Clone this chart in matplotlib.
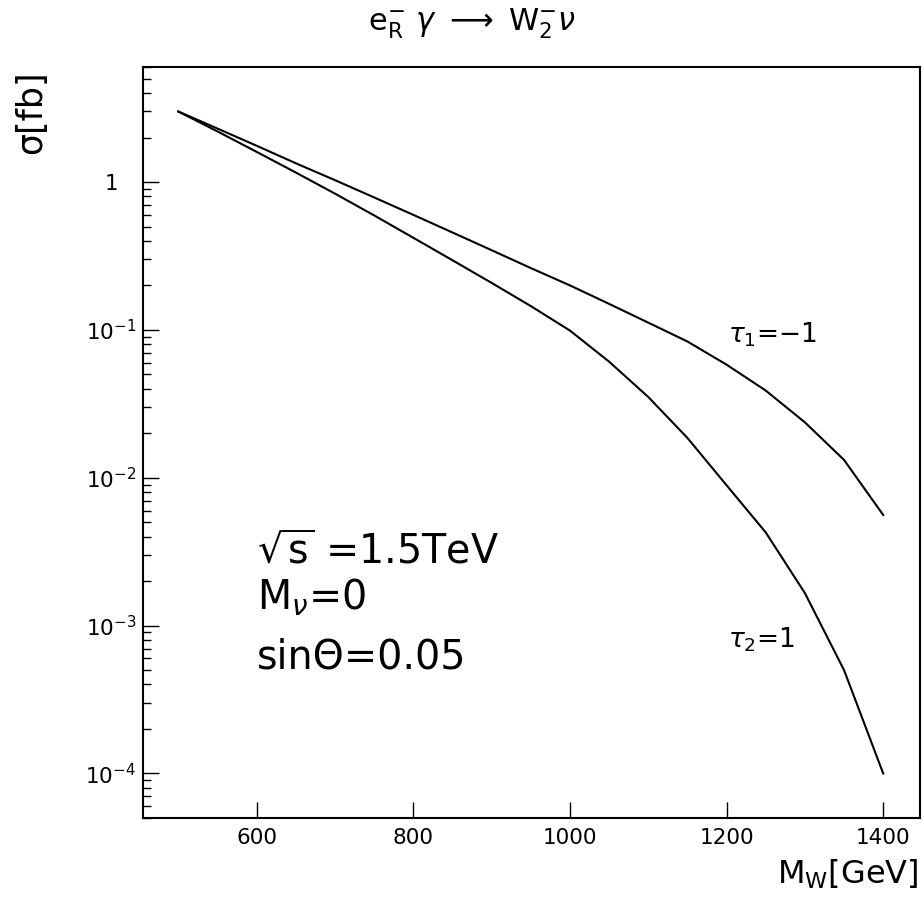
import matplotlib
matplotlib.use("Agg")
import matplotlib.pyplot as plt
from matplotlib.ticker import FixedLocator, FixedFormatter, LogLocator, NullFormatter
from matplotlib.transforms import ScaledTranslation

plt.rcParams['font.family'] = ['DejaVu Sans']
plt.rcParams['mathtext.fontset'] = 'dejavusans'
plt.rcParams['mathtext.default'] = 'rm'

# Data
m_w = [500, 550, 600, 650, 700, 750, 800, 850, 900, 950, 1000, 1050, 1100,
       1150, 1200, 1250, 1300, 1350, 1400]
sigma_tau1_m1 = [3.00, 2.30, 1.76, 1.34, 1.03, 0.787, 0.600, 0.456, 0.346,
                 0.262, 0.200, 0.150, 0.112, 0.0835, 0.0582, 0.0389, 0.0237,
                 0.0132, 0.0056]
sigma_tau2_p1 = [3.00, 2.20, 1.60, 1.16, 0.835, 0.595, 0.420, 0.296, 0.208,
                 0.145, 0.099, 0.0610, 0.0352, 0.0186, 0.0089, 0.00427,
                 0.00166, 0.00050, 0.00010]

x_ticks = [600, 800, 1000, 1200, 1400]
x_ticklabels = ['600', '800', '1000', '1200', '1400']
y_ticks = [1e-4, 1e-3, 1e-2, 1e-1, 1]
y_ticklabels = [r'$10^{-4}$', r'$10^{-3}$', r'$10^{-2}$', r'$10^{-1}$', '1']

fig = plt.figure(figsize=(9.24, 8.99), dpi=100)
ax = fig.add_axes([0.1548, 0.0901, 0.9957 - 0.1548, 0.9255 - 0.0901])

ax.plot(m_w, sigma_tau1_m1, color='black', lw=1.5)
ax.plot(m_w, sigma_tau2_p1, color='black', lw=1.5)

ax.set_yscale('log')
ax.set_xlim(455, 1447)
ax.set_ylim(5e-5, 6.0)

ax.xaxis.set_major_locator(FixedLocator(x_ticks))
ax.xaxis.set_major_formatter(FixedFormatter(x_ticklabels))
ax.yaxis.set_major_locator(FixedLocator(y_ticks))
ax.yaxis.set_major_formatter(FixedFormatter(y_ticklabels))
ax.yaxis.set_minor_locator(LogLocator(base=10, subs=range(2, 10)))
ax.yaxis.set_minor_formatter(NullFormatter())
ax.xaxis.set_minor_locator(FixedLocator([]))

ax.tick_params(axis='both', which='major', direction='in', length=11.5, width=1.0,
               labelsize=15.5, top=False, right=False)
ax.tick_params(axis='y', which='minor', direction='in', length=6, width=1.0, right=False)
ax.tick_params(axis='x', which='major', pad=7)
ax.tick_params(axis='y', which='major', pad=5)

for s in ax.spines.values():
    s.set_linewidth(1.5)

fig.canvas.draw()
for lab in ax.get_yticklabels():
    if lab.get_text() == '1':
        lab.set_transform(lab.get_transform() + ScaledTranslation(-0.18, 0, fig.dpi_scale_trans))

fig.text(0.511, 0.974, r'e$_{R}^{-}$ $\mathit{\gamma}$ $\longrightarrow$ W$_{2}^{-}$$\mathit{\nu}$',
         ha='center', va='center', fontsize=22)
fig.text(0.034, 0.875, 'σ[fb]', rotation=90, ha='center', va='center', fontsize=25)
fig.text(0.994, 0.027, r'M$_{\mathrm{W}}$[GeV]', ha='right', va='center', fontsize=23)

ax.text(0.147, 0.3395, r'$\sqrt{\mathrm{s}}$ =1.5TeV', transform=ax.transAxes, fontsize=28.5,
        ha='left', va='baseline')
ax.text(0.147, 0.2783, r'M$_{\mathit{\nu}}$=0', transform=ax.transAxes, fontsize=28.5,
        ha='left', va='baseline')
ax.text(0.147, 0.1985, 'sinΘ=0.05', transform=ax.transAxes, fontsize=28.5,
        ha='left', va='baseline')

ax.text(0.753, 0.6325, r'$\mathit{\tau}_{1}$=$-$1', transform=ax.transAxes, fontsize=19,
        ha='left', va='baseline')
ax.text(0.753, 0.2264, r'$\mathit{\tau}_{2}$=1', transform=ax.transAxes, fontsize=19,
        ha='left', va='baseline')

fig.savefig('out.png', dpi=100)
